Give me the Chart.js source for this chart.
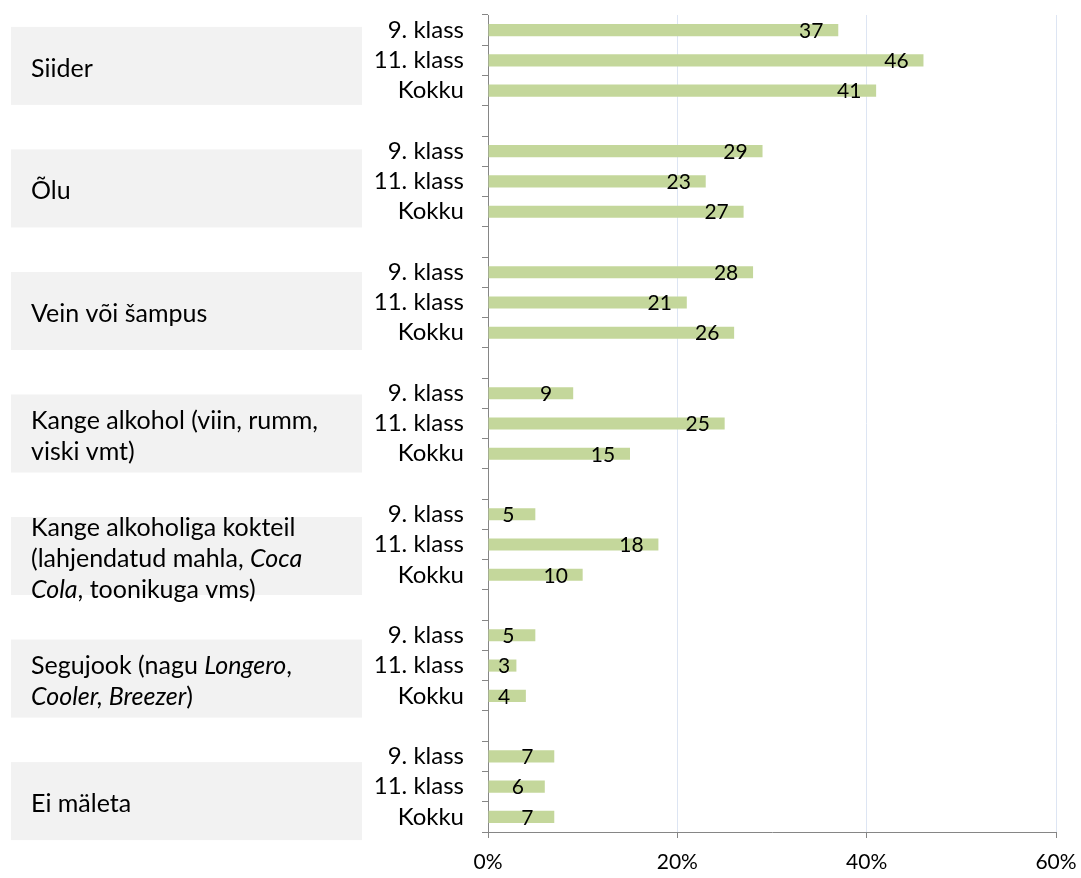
<!DOCTYPE html>
<html>
<head>
<meta charset="utf-8">
<script src="https://cdn.jsdelivr.net/npm/chart.js@4"></script>
<style>
    html, body { margin: 0; padding: 0; background: #fff; }
    #wrap { width: 1081px; height: 878px; position: relative; }
</style>
</head>
<body>
<div id="wrap"><canvas id="alkoholChart" width="1081" height="878"></canvas></div>
<script>
// Group names (text between * * is italic), one entry per line
const groupLabels = [
    ['Siider'],
    ['Õlu'],
    ['Vein või šampus'],
    ['Kange alkohol (viin, rumm,', 'viski vmt)'],
    ['Kange alkoholiga kokteil', '(lahjendatud mahla, *Coca*', '*Cola*, toonikuga vms)'],
    ['Segujook (nagu *Longero*,', '*Cooler, Breezer*)'],
    ['Ei mäleta']
];
const rowLabels = ['9. klass', '11. klass', 'Kokku'];

// Values per group: 9. klass, 11. klass, Kokku (%)
const siider = [37, 46, 41];
const olu = [29, 23, 27];
const vein = [28, 21, 26];
const kange = [9, 25, 15];
const kokteil = [5, 18, 10];
const segujook = [5, 3, 4];
const eiMaleta = [7, 6, 7];
const groupValues = [siider, olu, vein, kange, kokteil, segujook, eiMaleta];

const xTicks = [0, 20, 40, 60];

const FONT = 'Lato, "Open Sans", sans-serif';

// Flatten groups into categories, with an empty row between groups
const labels = [];
const values = [];
const groupMiddle = [];
groupValues.forEach((vals, g) => {
    vals.forEach((v, i) => {
        if (i === 1) groupMiddle.push(labels.length);
        labels.push(rowLabels[i]);
        values.push(v);
    });
    if (g < groupValues.length - 1) {
        labels.push('');
        values.push(null);
    }
});

// Draws one line with *italic* parts
function drawRichLine(ctx, text, x, y, size) {
    const parts = text.split('*');
    let cx = x;
    parts.forEach((part, i) => {
        if (!part) return;
        ctx.font = (i % 2 === 1 ? 'italic ' : '') + size + 'px ' + FONT;
        ctx.fillText(part, cx, y);
        cx += ctx.measureText(part).width;
    });
}

// Grey boxes with the group names on the left
const groupBoxes = {
    id: 'groupBoxes',
    beforeDatasetsDraw(chart) {
        const ctx = chart.ctx;
        const yScale = chart.scales.y;
        ctx.save();
        groupLabels.forEach((lines, g) => {
            const mid = yScale.getPixelForValue(groupMiddle[g]) + 5.5 + 1.5 * g;
            ctx.fillStyle = '#f2f2f2';
            ctx.fillRect(11, mid - 39, 351, 78);
            ctx.fillStyle = '#000';
            ctx.textBaseline = 'middle';
            ctx.textAlign = 'left';
            const lh = 31;
            const start = mid + 3 - (lines.length - 1) * lh / 2;
            lines.forEach((line, i) => drawRichLine(ctx, line, 31, start + i * lh, 25));
        });
        ctx.restore();
    }
};

// Value numbers near the end of each bar
const barValues = {
    id: 'barValues',
    afterDatasetsDraw(chart) {
        const ctx = chart.ctx;
        const meta = chart.getDatasetMeta(0);
        const base = chart.scales.x.getPixelForValue(0);
        ctx.save();
        ctx.font = '21px ' + FONT;
        ctx.fillStyle = '#000';
        ctx.textAlign = 'center';
        ctx.textBaseline = 'middle';
        meta.data.forEach((bar, i) => {
            const v = values[i];
            if (v === null) return;
            const x = Math.max(bar.x - 27, base + 16);
            ctx.fillText(String(v), x, bar.y + 1);
        });
        ctx.restore();
    }
};

const canvas = document.getElementById('alkoholChart');
const ctx = canvas.getContext('2d');

new Chart(ctx, {
    type: 'bar',
    data: {
        labels: labels,
        datasets: [{
            data: values,
            backgroundColor: '#c4d79b',
            borderWidth: 0,
            barPercentage: 0.4,
            categoryPercentage: 1
        }]
    },
    options: {
        indexAxis: 'y',
        responsive: false,
        animation: false,
        layout: { padding: { top: 15, right: 25, bottom: 0, left: 0 } },
        plugins: {
            legend: { display: false },
            tooltip: { enabled: false }
        },
        scales: {
            x: {
                min: 0,
                max: 60,
                afterBuildTicks(scale) {
                    scale.ticks = xTicks.map(v => ({ value: v }));
                },
                afterFit(scale) {
                    scale.height = 46;
                    // no extra room for the end labels
                    scale.paddingLeft = 0;
                    scale.paddingRight = 0;
                },
                border: { color: '#868686', width: 1 },
                grid: {
                    color: c => (c.tick && c.tick.value === 0 ? 'rgba(0,0,0,0)' : '#dde5f3'),
                    tickColor: '#868686',
                    tickLength: 6,
                    lineWidth: 1
                },
                ticks: {
                    color: '#000',
                    padding: 12,
                    font: { family: FONT, size: 21 },
                    callback: v => v + '%'
                }
            },
            y: {
                afterFit(scale) {
                    scale.width = 488;
                    scale.paddingTop = 0;
                    scale.paddingBottom = 0;
                },
                border: { color: '#868686', width: 1 },
                grid: {
                    offset: true,
                    drawOnChartArea: false,
                    color: '#868686',
                    tickLength: 6
                },
                ticks: {
                    color: '#000',
                    padding: 18,
                    autoSkip: false,
                    font: { family: FONT, size: 24 }
                }
            }
        }
    },
    plugins: [groupBoxes, barValues]
});
</script>
</body>
</html>
